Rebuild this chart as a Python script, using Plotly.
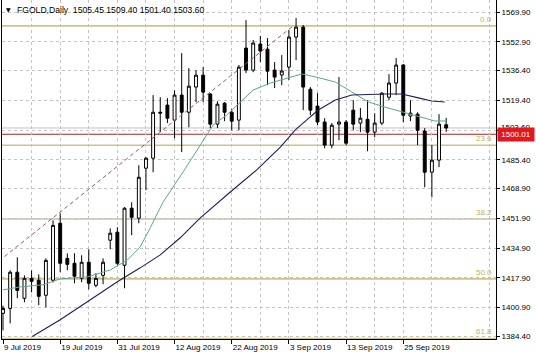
import plotly.graph_objects as go

# ---------------- data ----------------
dates = [
    "9 Jul 2019", "10 Jul 2019", "11 Jul 2019", "12 Jul 2019", "15 Jul 2019", "16 Jul 2019",
    "17 Jul 2019", "18 Jul 2019", "19 Jul 2019", "22 Jul 2019", "23 Jul 2019", "24 Jul 2019",
    "25 Jul 2019", "26 Jul 2019", "29 Jul 2019", "30 Jul 2019", "31 Jul 2019",
    "1 Aug 2019", "2 Aug 2019", "5 Aug 2019", "6 Aug 2019", "7 Aug 2019", "8 Aug 2019",
    "9 Aug 2019", "12 Aug 2019", "13 Aug 2019", "14 Aug 2019", "15 Aug 2019", "16 Aug 2019",
    "19 Aug 2019", "20 Aug 2019", "21 Aug 2019", "22 Aug 2019", "23 Aug 2019", "26 Aug 2019",
    "27 Aug 2019", "28 Aug 2019", "29 Aug 2019", "30 Aug 2019",
    "2 Sep 2019", "3 Sep 2019", "4 Sep 2019", "5 Sep 2019", "6 Sep 2019", "9 Sep 2019",
    "10 Sep 2019", "11 Sep 2019", "12 Sep 2019", "13 Sep 2019", "16 Sep 2019", "17 Sep 2019",
    "18 Sep 2019", "19 Sep 2019", "20 Sep 2019", "23 Sep 2019", "24 Sep 2019", "25 Sep 2019",
    "26 Sep 2019", "27 Sep 2019", "30 Sep 2019",
    "1 Oct 2019", "2 Oct 2019", "3 Oct 2019",
]

opens = [1397.6, 1400.4, 1421.1, 1406.2, 1417.6, 1416.5, 1407.9, 1416.5, 1449.1, 1429.0,
         1426.2, 1417.6, 1426.8, 1413.6, 1419.3, 1439.4, 1444.0, 1425.1, 1457.7, 1452.0,
         1480.6, 1486.3, 1512.6, 1516.7, 1508.1, 1522.4, 1512.6, 1527.0, 1533.8, 1523.0,
         1505.8, 1517.8, 1512.6, 1508.1, 1549.3, 1536.7, 1551.6, 1548.7, 1536.7, 1533.9,
         1538.4, 1555.6, 1561.3, 1525.8, 1516.1, 1507.0, 1493.8, 1505.8, 1507.0, 1513.8,
         1506.4, 1508.6, 1501.2, 1506.4, 1521.2, 1529.3, 1539.6, 1510.4, 1511.5, 1501.8,
         1478.3, 1485.2, 1505.45]
highs = [1402.0, 1422.2, 1429.6, 1419.3, 1422.2, 1419.9, 1429.0, 1450.8, 1454.8, 1431.9,
         1431.9, 1430.8, 1434.2, 1420.5, 1429.0, 1446.2, 1446.8, 1458.3, 1461.1, 1482.3,
         1486.9, 1522.4, 1521.2, 1520.7, 1525.2, 1546.4, 1537.8, 1536.7, 1538.4, 1523.5,
         1518.9, 1518.4, 1514.4, 1539.6, 1565.3, 1553.9, 1556.2, 1555.0, 1541.3, 1545.3,
         1559.6, 1566.5, 1562.5, 1527.0, 1523.5, 1509.2, 1506.4, 1532.7, 1508.1, 1519.5,
         1515.0, 1519.5, 1512.0, 1524.1, 1534.4, 1543.6, 1540.2, 1519.5, 1512.6, 1503.5,
         1493.8, 1511.5, 1509.40]
lows = [1387.8, 1391.8, 1406.2, 1403.9, 1409.6, 1402.2, 1401.0, 1415.3, 1421.1, 1422.2,
        1414.8, 1415.3, 1411.3, 1412.5, 1414.2, 1434.2, 1425.1, 1411.9, 1442.3, 1449.1,
        1468.0, 1478.3, 1501.2, 1506.4, 1497.8, 1489.8, 1504.0, 1518.4, 1518.4, 1503.5,
        1503.5, 1507.5, 1502.3, 1502.3, 1535.0, 1535.5, 1541.3, 1528.1, 1526.4, 1528.1,
        1531.0, 1542.4, 1513.8, 1510.9, 1505.2, 1492.0, 1492.0, 1496.6, 1493.8, 1502.3,
        1501.2, 1490.3, 1498.3, 1505.2, 1519.5, 1522.4, 1506.9, 1507.5, 1493.8, 1469.7,
        1464.0, 1481.2, 1501.40]
closes = [1400.4, 1421.1, 1410.7, 1417.6, 1415.9, 1407.3, 1427.9, 1447.9, 1426.2, 1425.6,
          1418.8, 1426.8, 1414.8, 1417.6, 1426.8, 1443.4, 1426.2, 1457.7, 1452.5, 1475.4,
          1486.3, 1512.6, 1512.1, 1509.2, 1522.4, 1512.6, 1527.5, 1533.8, 1524.1, 1505.8,
          1517.2, 1512.6, 1507.5, 1538.4, 1536.7, 1552.2, 1547.6, 1536.1, 1532.7, 1536.2,
          1555.6, 1561.3, 1527.0, 1513.8, 1507.0, 1493.8, 1505.2, 1507.0, 1494.9, 1505.8,
          1509.2, 1501.2, 1506.4, 1523.5, 1529.3, 1539.6, 1510.9, 1512.1, 1502.3, 1478.3,
          1485.2, 1505.8, 1503.60]

# moving averages (bar position, value)
ma_fast_x = [0, 2.4, 5.6, 8.0, 11.8, 15.0, 17.4, 18.2, 19.2, 20.6, 22.4, 25.2, 27.6, 29.4,
             31.3, 33.2, 35.0, 37.4, 40.2, 41.8, 43.7, 46.5, 48.8, 51.1, 53.4, 55.8, 58.1,
             60.4, 62.0]
ma_fast_y = [1411.0, 1412.7, 1413.9, 1417.3, 1418.4, 1422.4, 1428.1, 1431.6, 1435.6, 1446.5,
             1461.3, 1478.5, 1493.9, 1505.3, 1511.0, 1518.5, 1525.3, 1529.3, 1532.8, 1534.5,
             1532.8, 1529.9, 1524.2, 1518.5, 1515.6, 1512.8, 1509.9, 1507.6, 1507.6]
ma_slow_x = [4.1, 8.0, 11.8, 16.0, 19.2, 22.0, 24.8, 27.6, 31.8, 35.5, 38.8, 40.9, 42.5,
             44.1, 46.5, 48.8, 53.4, 55.8, 58.1, 60.0, 61.8]
ma_slow_y = [1384.3, 1393.9, 1404.2, 1415.6, 1423.6, 1431.0, 1440.8, 1452.2, 1467.0, 1479.6,
             1492.7, 1502.5, 1508.2, 1513.9, 1519.6, 1522.5, 1523.0, 1523.0, 1520.8, 1519.0,
             1518.5]

# Fibonacci retracement
fib_anchor_x = [-48, 40.6]
fib_anchor_y = [1272.6, 1562.0]
fib_labels = ["0.0", "23.6", "38.2", "50.0", "61.8"]
fib_levels = [1562.0, 1493.7, 1451.5, 1417.3, 1383.2]

hline_value = 1500.01
last_price = 1503.60
header_text = "FGOLD,Daily\u00a0\u00a01505.45 1509.40 1501.40 1503.60"

y_ticks = [1569.90, 1552.90, 1536.40, 1519.40, 1502.40, 1485.40, 1468.90, 1451.90,
           1434.90, 1417.90, 1400.90, 1384.40]
y_tick_text = ["1569.90", "1552.90", "1536.40", "1519.40", "", "1485.40", "1468.90",
               "1451.90", "1434.90", "1417.90", "1400.90", "1384.40"]

# ---------------- figure ----------------
W, H = 536, 357
ML, MR, MT, MB = 2, 40, 0, 18
PW, PH = W - ML - MR, H - MT - MB
FONT = "Liberation Sans, Arial, sans-serif"
GRID = "#c4c4c4"

bars = list(range(len(dates)))

fig = go.Figure()
fig.add_trace(go.Candlestick(
    x=bars, open=opens, high=highs, low=lows, close=closes,
    increasing=dict(line=dict(color="black", width=1), fillcolor="white"),
    decreasing=dict(line=dict(color="black", width=1), fillcolor="black"),
    whiskerwidth=0, showlegend=False,
))
fig.add_trace(go.Scatter(x=ma_fast_x, y=ma_fast_y, mode="lines",
                         line=dict(color="#5fa68c", width=1), showlegend=False,
                         hoverinfo="skip"))
fig.add_trace(go.Scatter(x=ma_slow_x, y=ma_slow_y, mode="lines",
                         line=dict(color="#1e1e5a", width=1.1), showlegend=False,
                         hoverinfo="skip"))
fig.add_trace(go.Scatter(x=fib_anchor_x, y=fib_anchor_y, mode="lines",
                         line=dict(color="#a05a5a", width=1, dash="4px,3px"),
                         showlegend=False, hoverinfo="skip"))

shapes = []
for lv in fib_levels:
    shapes.append(dict(type="line", xref="paper", x0=0, x1=1, yref="y", y0=lv, y1=lv,
                       line=dict(color="#cfc488", width=1.6), layer="below"))
shapes.append(dict(type="line", xref="paper", x0=0, x1=1, yref="y", y0=last_price,
                   y1=last_price, line=dict(color="#c0c0c0", width=1), layer="below"))
shapes.append(dict(type="line", xref="paper", x0=0, x1=1, yref="y", y0=hline_value,
                   y1=hline_value, line=dict(color="#a32525", width=1), layer="below"))

def px_x(px):
    return (px - ML) / PW

def px_y(py):
    return 1 - (py - MT) / PH

annotations = []
for lab, lv in zip(fib_labels, fib_levels):
    annotations.append(dict(text=lab, xref="paper", x=px_x(494), xanchor="right",
                            yref="y", y=lv, yanchor="bottom", yshift=0, showarrow=False,
                            font=dict(family=FONT, size=8, color="#c4b25c")))
annotations.append(dict(text="\u25bc", xref="paper", x=px_x(4), xanchor="left",
                        yref="paper", y=px_y(10), yanchor="middle", showarrow=False,
                        font=dict(family="DejaVu Sans", size=6, color="black")))
annotations.append(dict(text=header_text, xref="paper", x=px_x(15), xanchor="left",
                        yref="paper", y=px_y(10), yanchor="middle", showarrow=False,
                        font=dict(family=FONT, size=8.6, color="black")))
annotations.append(dict(text=f"{last_price:.2f}", xref="paper", x=px_x(499), xanchor="left",
                        yref="y", y=last_price, yanchor="middle", showarrow=False,
                        font=dict(family=FONT, size=8, color="black")))
annotations.append(dict(text=f"{hline_value:.2f}", xref="paper", x=px_x(497), xanchor="left",
                        yref="y", y=hline_value, yanchor="middle", showarrow=False,
                        bgcolor="#e5161c", width=34, height=11, borderpad=1, align="center",
                        font=dict(family=FONT, size=8, color="white")))

x_lo = -0.14
x_hi = 68.97
fig.update_layout(
    width=W, height=H,
    margin=dict(l=ML, r=MR, t=MT, b=MB, pad=0),
    paper_bgcolor="white", plot_bgcolor="white",
    showlegend=False, boxgap=0.42,
    shapes=shapes, annotations=annotations,
    xaxis=dict(
        range=[x_lo, x_hi], rangeslider=dict(visible=False),
        tickmode="array", tickvals=bars[::8], ticktext=[dates[i] for i in bars[::8]],
        ticks="outside", ticklen=4, tickcolor="black", ticklabelposition="outside right",
        tickfont=dict(family=FONT, size=8, color="black"),
        showgrid=True, gridcolor=GRID, griddash="3px,3px", gridwidth=1,
        minor=dict(tickmode="array", tickvals=[i + 4 for i in range(0, 69, 8)],
                   showgrid=True, gridcolor=GRID, griddash="3px,3px", gridwidth=1, ticks=""),
        showline=True, linecolor="black", linewidth=1, mirror=False, zeroline=False,
        fixedrange=True,
    ),
    yaxis=dict(
        side="right", range=[1382.9, 1576.8],
        tickmode="array", tickvals=y_ticks, ticktext=y_tick_text,
        ticks="outside", ticklen=3, tickcolor="black",
        tickfont=dict(family=FONT, size=8, color="black"),
        showgrid=True, gridcolor=GRID, griddash="3px,3px", gridwidth=1,
        showline=True, linecolor="black", linewidth=1, mirror=True, zeroline=False,
        fixedrange=True,
    ),
)

fig.write_html("out.html", config=dict(displayModeBar=False),
               post_script="document.body.style.margin='0';document.body.style.overflow='hidden';")
